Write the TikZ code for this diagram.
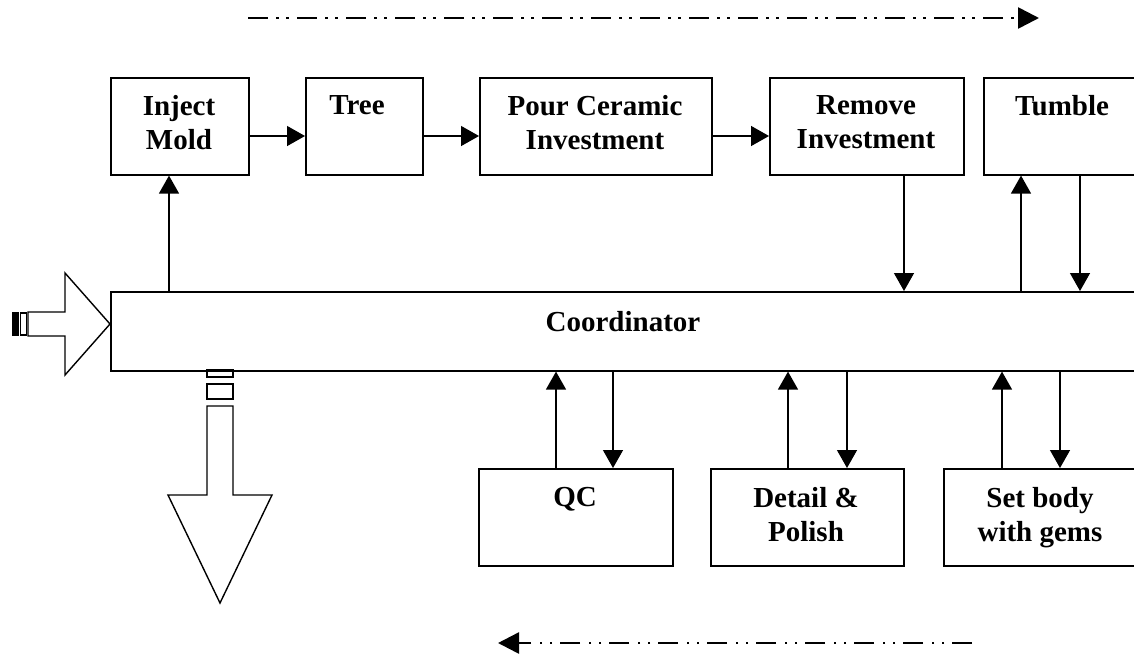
\documentclass[tikz,border=0pt]{standalone}
\usepackage{fontspec}
\setmainfont{Liberation Serif}
\usetikzlibrary{arrows.meta}
\begin{document}
\begin{tikzpicture}[x=1pt,y=-1pt,
  box/.style={draw=black, line width=1.6pt, inner sep=0pt, anchor=north west},
  lbl/.style={font=\fontsize{29}{34}\selectfont\bfseries, inner sep=0pt, align=center, anchor=north},
  arr/.style={line width=1.4pt, -{Triangle[length=18pt,width=20pt]}},
  flow/.style={line width=2.6pt, dash pattern=on 20pt off 8pt on 2.5pt off 7.5pt on 2.5pt off 8.5pt, -{Triangle[length=21pt,width=21pt]}},
  fat/.style={draw=black, line width=1.4pt, line join=miter, fill=white}]
\useasboundingbox (0,0) rectangle (1134,654);
\clip (0,0) rectangle (1134,654);

% process boxes
\node[box, minimum width=138pt, minimum height=97pt] (inj)  at (110,77) {};
\node[box, minimum width=117pt, minimum height=97pt] (tree) at (305,77) {};
\node[box, minimum width=232pt, minimum height=97pt] (pour) at (479,77) {};
\node[box, minimum width=194pt, minimum height=97pt] (rem)  at (769,77) {};
\node[box, minimum width=158pt, minimum height=97pt] (tum)  at (983,77) {};
\node[box, minimum width=1040pt, minimum height=79pt] (coord) at (110,291) {};
\node[box, minimum width=194pt, minimum height=97pt] (qc)   at (478,468) {};
\node[box, minimum width=193pt, minimum height=97pt] (det)  at (710,468) {};
\node[box, minimum width=194pt, minimum height=97pt] (set)  at (943,468) {};

% labels
\node[lbl] (linj)  at (179,95.5)  {Inject\\Mold};
\node[lbl] (ltree) at (357,95.5)  {Tree};
\node[lbl] (lpour) at (595,95.5)  {Pour Ceramic\\Investment};
\node[lbl] (lrem)  at (866,95.5)  {Remove\\Investment};
\node[lbl] (ltum)  at (1062,95.5) {Tumble};
\node[lbl] (lcoord) at (623,311.5) {Coordinator};
\node[lbl] (lqc)   at (575,487.5) {QC};
\node[lbl] (ldet)  at (806,487.5) {Detail \&\\Polish};
\node[lbl] (lset)  at (1040,487.5) {Set body\\with gems};

% connectors
\draw[arr] (inj.east |- 0,136) -- (tree.west |- 0,136);
\draw[arr] (tree.east |- 0,136) -- (pour.west |- 0,136);
\draw[arr] (pour.east |- 0,136) -- (rem.west |- 0,136);
\draw[arr] (coord.north -| 169,0) -- (inj.south -| 169,0);
\draw[arr] (rem.south -| 904,0) -- (coord.north -| 904,0);
\draw[arr] (coord.north -| 1021,0) -- (tum.south -| 1021,0);
\draw[arr] (tum.south -| 1080,0) -- (coord.north -| 1080,0);
\draw[arr] (qc.north -| 556,0) -- (coord.south -| 556,0);
\draw[arr] (coord.south -| 613,0) -- (qc.north -| 613,0);
\draw[arr] (det.north -| 788,0) -- (coord.south -| 788,0);
\draw[arr] (coord.south -| 847,0) -- (det.north -| 847,0);
\draw[arr] (set.north -| 1002,0) -- (coord.south -| 1002,0);
\draw[arr] (coord.south -| 1060,0) -- (set.north -| 1060,0);

% input fat arrow
\draw[fat] (28,312) -- (65,312) -- (65,273) -- (110,324) -- (65,375) -- (65,336) -- (28,336) -- cycle;
\fill[black] (12,312) rectangle (19,336);
\draw[line width=1.2pt] (20.5,313) rectangle (26.5,335);

% output fat arrow
\draw[line width=1.2pt] (207,370) rectangle (233,377);
\draw[line width=1.2pt] (207,384) rectangle (233,399);
\draw[fat] (207,406) -- (207,495) -- (168,495) -- (220,603) -- (272,495) -- (233,495) -- (233,406) -- cycle;

% flow direction arrows
\coordinate (ts) at (248,18);
\coordinate (te) at (1039,18);
\draw[flow] (ts) -- (te);
\coordinate (bs) at (972,643);
\coordinate (be) at (498,643);
\draw[flow] (bs) -- (be);
\end{tikzpicture}
\end{document}
